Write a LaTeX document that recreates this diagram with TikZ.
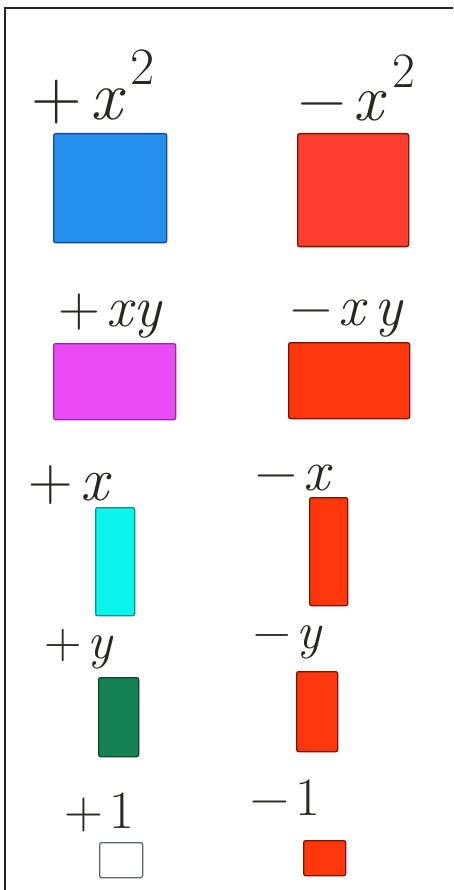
\documentclass[tikz,border=0pt]{standalone}
\usepackage{fontspec}
\usepackage{tikz}
\usetikzlibrary{positioning}
\definecolor{ink}{RGB}{40,40,35}
\definecolor{sqblue}{RGB}{35,145,235}
\definecolor{sqblueline}{RGB}{20,70,170}
\definecolor{sqred}{RGB}{255,62,48}
\definecolor{negred}{RGB}{255,55,10}
\definecolor{negline}{RGB}{120,20,0}
\definecolor{rectmag}{RGB}{235,75,245}
\definecolor{rectmagline}{RGB}{150,40,170}
\definecolor{barcyan}{RGB}{10,245,235}
\definecolor{barcyanline}{RGB}{0,150,130}
\definecolor{bargreen}{RGB}{20,130,85}
\definecolor{bargreenline}{RGB}{10,70,40}
\definecolor{unitline}{RGB}{95,105,95}
\newcommand{\sqrd}{\hspace{0.08em}\raisebox{0.5em}{\scalebox{0.75}{2}}}
\newcommand{\sgn}[1]{#1\hspace{0.12em}}

\begin{document}
\begin{tikzpicture}[x=1pt,y=-1pt,
          tile/.style={rounded corners=2pt,line width=1.3pt,inner sep=0pt,
                       anchor=north west},
          lbl/.style={text=ink,inner sep=0pt,anchor=base west,
                      font=\fontsize{#1}{#1}\selectfont},
          lbl/.default=52]
        \useasboundingbox (0,0) rectangle (453,890);
        \draw[line width=1.6pt,black!85] (5,890) -- (5,8) -- (453,8);
        % x^2 tiles
        \node[tile,fill=sqblue,draw=sqblueline,minimum width=113pt,minimum height=109pt]
          (pxx) at (53,133) {};
        \node[tile,fill=sqred,draw=negline,minimum width=111pt,minimum height=113pt]
          (nxx) at (297,133) {};
        \node[lbl=70] (lpxx) at (31,120) {\sgn{+}\textit{x}\sqrd};
        \node[lbl=66] (lnxx) at (298,121) {\sgn{−}\textit{x}\sqrd};
        % xy tiles
        \node[tile,fill=rectmag,draw=rectmagline,minimum width=122pt,minimum height=76pt]
          (pxy) at (53,343) {};
        \node[tile,fill=negred,draw=negline,minimum width=121pt,minimum height=76pt]
          (nxy) at (288,342) {};
        \node[lbl=58] (lpxy) at (58,326) {\sgn{+}\textit{xy}};
        \node[lbl=58] (lnxy) at (290,325) {\sgn{−}\textit{x\,y}};
        % x tiles
        \node[tile,fill=barcyan,draw=barcyanline,minimum width=39pt,minimum height=108pt]
          (px) at (95,507) {};
        \node[tile,fill=negred,draw=negline,minimum width=38pt,minimum height=108pt]
          (nx) at (309,497) {};
        \node[lbl=62] (lpx) at (28,500) {\sgn{+}\textit{x}};
        \node[lbl=58] (lnx) at (255,490) {\sgn{−}\textit{x}};
        % y tiles
        \node[tile,fill=bargreen,draw=bargreenline,minimum width=40pt,minimum height=79pt]
          (py) at (98,677) {};
        \node[tile,fill=negred,draw=negline,minimum width=41pt,minimum height=80pt]
          (ny) at (296,671) {};
        \node[lbl=52] (lpy) at (44,658) {\sgn{+}\textit{y}};
        \node[lbl=52] (lny) at (253,648) {\sgn{−}\textit{y}};
        % unit tiles
        \node[tile,fill=white,draw=unitline,minimum width=43pt,minimum height=35pt]
          (pone) at (99,842) {};
        \node[tile,fill=negred,draw=negline,minimum width=42pt,minimum height=35pt]
          (none) at (303,840) {};
        \node[lbl=54] (lpone) at (64,828) {\sgn{+}1};
        \node[lbl=54] (lnone) at (250,815) {\sgn{−}1};
      \end{tikzpicture}
\end{document}
